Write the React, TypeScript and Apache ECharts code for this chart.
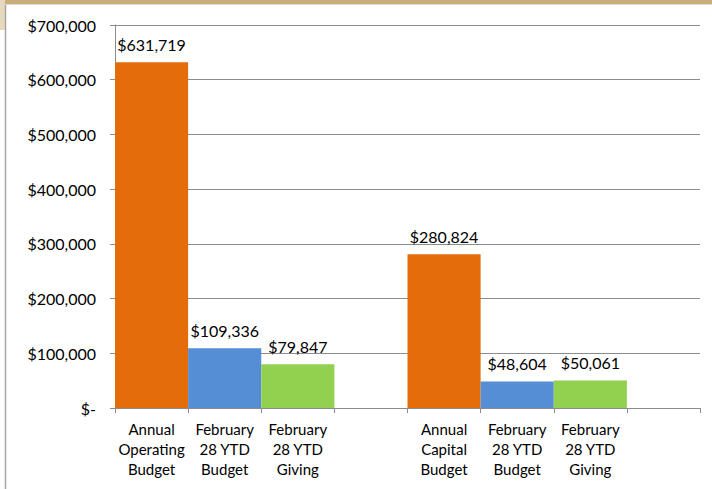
import React, { useEffect, useRef } from "react";
import * as echarts from "echarts";

const categories = [
  "Annual\nOperating\nBudget",
  "February\n28 YTD\nBudget",
  "February\n28 YTD\nGiving",
  "",
  "Annual\nCapital\nBudget",
  "February\n28 YTD\nBudget",
  "February\n28 YTD\nGiving",
  "",
];
const values: (number | null)[] = [631719, 109336, 79847, null, 280824, 48604, 50061, null];
const barColors = ["#E46C0A", "#558ED5", "#92D050", "#ffffff", "#E46C0A", "#558ED5", "#92D050", "#ffffff"];
const yTicks = [0, 100000, 200000, 300000, 400000, 500000, 600000, 700000];

const money = (v: number) => (v === 0 ? "$-" : "$" + v.toLocaleString("en-US"));

export default function App() {
  const ref = useRef<HTMLDivElement>(null);
  useEffect(() => {
    document.body.style.margin = "0";
    const chart = echarts.init(ref.current!, undefined, { renderer: "svg" });
    const font = "Lato, 'Open Sans', sans-serif";
    chart.setOption({
      animation: false,
      backgroundColor: "#ffffff",
      textStyle: { fontFamily: font },
      graphic: [
        { type: "rect", shape: { x: 0, y: 0, width: 712, height: 4 }, style: { fill: "#C9AE7A" }, silent: true },
        { type: "rect", shape: { x: 0, y: 0, width: 5, height: 30 }, style: { fill: "#E6D9BE" }, silent: true },
        { type: "line", shape: { x1: 5.5, y1: 4, x2: 5.5, y2: 489 }, style: { stroke: "#A6A6A6", lineWidth: 1.5 }, silent: true },
        { type: "line", shape: { x1: 5, y1: 4.5, x2: 712, y2: 4.5 }, style: { stroke: "#D9D9D9", lineWidth: 1 }, silent: true },
      ],
      grid: { left: 115, right: 12, top: 25, bottom: 81, containLabel: false },
      xAxis: {
        type: "category",
        data: categories,
        boundaryGap: true,
        axisLine: { lineStyle: { color: "#8C8C8C", width: 1 } },
        axisTick: { show: true, alignWithLabel: false, length: 5, lineStyle: { color: "#8C8C8C" } },
        axisLabel: { interval: 0, color: "#000000", fontSize: 15, lineHeight: 20, margin: 11, fontFamily: font },
      },
      yAxis: {
        type: "value",
        min: 0,
        max: 700000,
        interval: 100000,
        axisLine: { show: true, lineStyle: { color: "#8C8C8C" } },
        axisTick: { show: true, length: 5, lineStyle: { color: "#8C8C8C" } },
        splitLine: { show: true, lineStyle: { color: "#8C8C8C", width: 1 } },
        axisLabel: {
          color: "#000000",
          fontSize: 16,
          margin: 19,
          fontFamily: font,
          formatter: (v: number) => (yTicks.includes(v) ? money(v) : ""),
        },
      },
      series: [
        {
          type: "bar",
          barWidth: "100%",
          barCategoryGap: "0%",
          data: values.map((v, i) => ({ value: v, itemStyle: { color: barColors[i] } })),
          label: {
            show: true,
            position: "top",
            distance: 10,
            color: "#000000",
            fontSize: 16,
            fontFamily: font,
            formatter: (p: any) => (p.value == null ? "" : money(p.value)),
          },
        },
      ],
    });
    return () => chart.dispose();
  }, []);
  return <div ref={ref} style={{ width: 712, height: 489 }} />;
}
